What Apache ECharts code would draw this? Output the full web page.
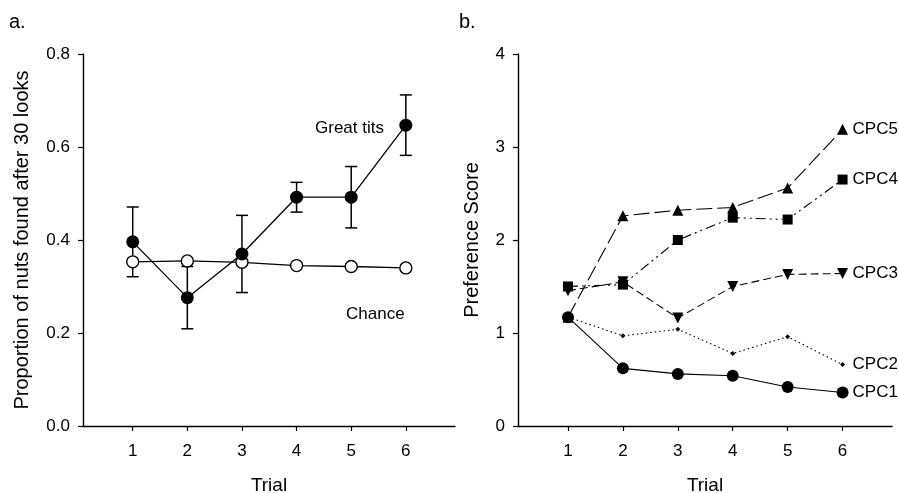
<!DOCTYPE html>
<html>
<head>
<meta charset="utf-8">
<script src="https://cdn.jsdelivr.net/npm/echarts@6/dist/echarts.min.js"></script>
<style>
  html, body { margin: 0; padding: 0; background: #fff; }
  #chart { width: 899px; height: 493px; }
</style>
</head>
<body>
<div id="chart"></div>
<script>
// data
const trials = [1, 2, 3, 4, 5, 6];
const greatTits = [0.396, 0.276, 0.370, 0.492, 0.492, 0.647];
const greatTitsErr = [0.075, 0.067, 0.083, 0.032, 0.066, 0.065];
const chance = [0.353, 0.355, 0.352, 0.345, 0.343, 0.340];

const cpc1 = [1.17, 0.62, 0.56, 0.54, 0.42, 0.36];
const cpc2 = [1.17, 0.97, 1.04, 0.78, 0.96, 0.66];
const cpc3 = [1.455, 1.55, 1.16, 1.50, 1.63, 1.64];
const cpc4 = [1.50, 1.52, 2.00, 2.24, 2.22, 2.65];
const cpc5 = [1.17, 2.26, 2.32, 2.35, 2.56, 3.19];

const font = 'Liberation Sans, Arial, sans-serif';
const pair = arr => arr.map((v, i) => [trials[i], v]);

function xAx(gridIndex) {
  return {
    type: 'value', gridIndex: gridIndex, min: 0.09, max: 6.9,
    name: 'Trial', nameLocation: 'middle', nameGap: 50,
    nameTextStyle: { fontFamily: font, fontSize: 19, color: '#000' },
    axisLine: { show: true, lineStyle: { color: '#000', width: 1.4 } },
    axisTick: { show: true, customValues: trials, length: 5, lineStyle: { color: '#000', width: 1.2 } },
    axisLabel: { customValues: trials, margin: 17, fontFamily: font, fontSize: 17, color: '#000' },
    splitLine: { show: false }
  };
}

function yAx(gridIndex, max, interval, title, gap, digits) {
  return {
    type: 'value', gridIndex: gridIndex, min: 0, max: max, interval: interval,
    name: title, nameLocation: 'middle', nameGap: gap, nameRotate: 90,
    nameTextStyle: { fontFamily: font, fontSize: 20, color: '#000' },
    axisLine: { show: true, lineStyle: { color: '#000', width: 1.4 } },
    axisTick: { show: true, length: 5, lineStyle: { color: '#000', width: 1.2 } },
    axisLabel: { margin: 13, fontFamily: font, fontSize: 17, color: '#000',
      formatter: v => v.toFixed(digits) },
    splitLine: { show: false }
  };
}

function cpcSeries(name, data, symbol, size, dash) {
  return {
    name: name, type: 'line', xAxisIndex: 1, yAxisIndex: 1,
    data: pair(data), symbol: symbol, symbolSize: size,
    itemStyle: { color: '#000' },
    lineStyle: { color: '#000', width: 1.1, type: dash },
    endLabel: { show: true, formatter: name, distance: 10, fontFamily: font, fontSize: 17, color: '#000' },
    z: 3
  };
}

let chart = echarts.init(document.getElementById('chart'));
chart.setOption({
  animation: false,
  grid: [
    { left: 83, right: 444, top: 54, bottom: 67, outerBoundsMode: 'none', containLabel: false },
    { left: 518, right: 7, top: 54, bottom: 67, outerBoundsMode: 'none', containLabel: false }
  ],
  xAxis: [xAx(0), xAx(1)],
  yAxis: [
    yAx(0, 0.8, 0.2, 'Proportion of nuts found after 30 looks', 51, 1),
    yAx(1, 4, 1, 'Preference Score', 36, 0)
  ],
  graphic: [
    { type: 'text', left: 9, top: 12, style: { text: 'a.', font: '20px ' + font, fill: '#000' } },
    { type: 'text', left: 459, top: 12, style: { text: 'b.', font: '20px ' + font, fill: '#000' } },
    { type: 'text', left: 315, top: 120, style: { text: 'Great tits', font: '17px ' + font, fill: '#000' } },
    { type: 'text', left: 346, top: 306, style: { text: 'Chance', font: '17px ' + font, fill: '#000' } }
  ],
  series: [
    {
      // error bars for great tits
      type: 'custom', xAxisIndex: 0, yAxisIndex: 0,
      data: trials.map((t, i) => [t, greatTits[i] - greatTitsErr[i], greatTits[i] + greatTitsErr[i]]),
      renderItem: function (params, api) {
        const lo = api.coord([api.value(0), api.value(1)]);
        const hi = api.coord([api.value(0), api.value(2)]);
        const w = 6;
        const st = { stroke: '#000', lineWidth: 1.5 };
        return {
          type: 'group',
          children: [
            { type: 'line', shape: { x1: lo[0], y1: lo[1], x2: hi[0], y2: hi[1] }, style: st },
            { type: 'line', shape: { x1: lo[0] - w, y1: lo[1], x2: lo[0] + w, y2: lo[1] }, style: st },
            { type: 'line', shape: { x1: hi[0] - w, y1: hi[1], x2: hi[0] + w, y2: hi[1] }, style: st }
          ]
        };
      },
      z: 1
    },
    {
      name: 'Chance', type: 'line', xAxisIndex: 0, yAxisIndex: 0,
      data: pair(chance), symbol: 'circle', symbolSize: 12,
      itemStyle: { color: '#fff', borderColor: '#000', borderWidth: 1.4 },
      lineStyle: { color: '#000', width: 1.3 }, z: 2
    },
    {
      name: 'Great tits', type: 'line', xAxisIndex: 0, yAxisIndex: 0,
      data: pair(greatTits), symbol: 'circle', symbolSize: 13,
      itemStyle: { color: '#000' },
      lineStyle: { color: '#000', width: 1.3 }, z: 3
    },
    cpcSeries('CPC1', cpc1, 'circle', 12, 'solid'),
    cpcSeries('CPC2', cpc2, 'diamond', 5, [1.5, 3]),
    cpcSeries('CPC3', cpc3, 'path://M0,0 L10,0 L5,9 Z', 11, [8, 4]),
    cpcSeries('CPC4', cpc4, 'rect', 10, [10, 4, 2, 4, 2, 4]),
    cpcSeries('CPC5', cpc5, 'triangle', 11, [16, 5])
  ]
});
</script>
</body>
</html>
